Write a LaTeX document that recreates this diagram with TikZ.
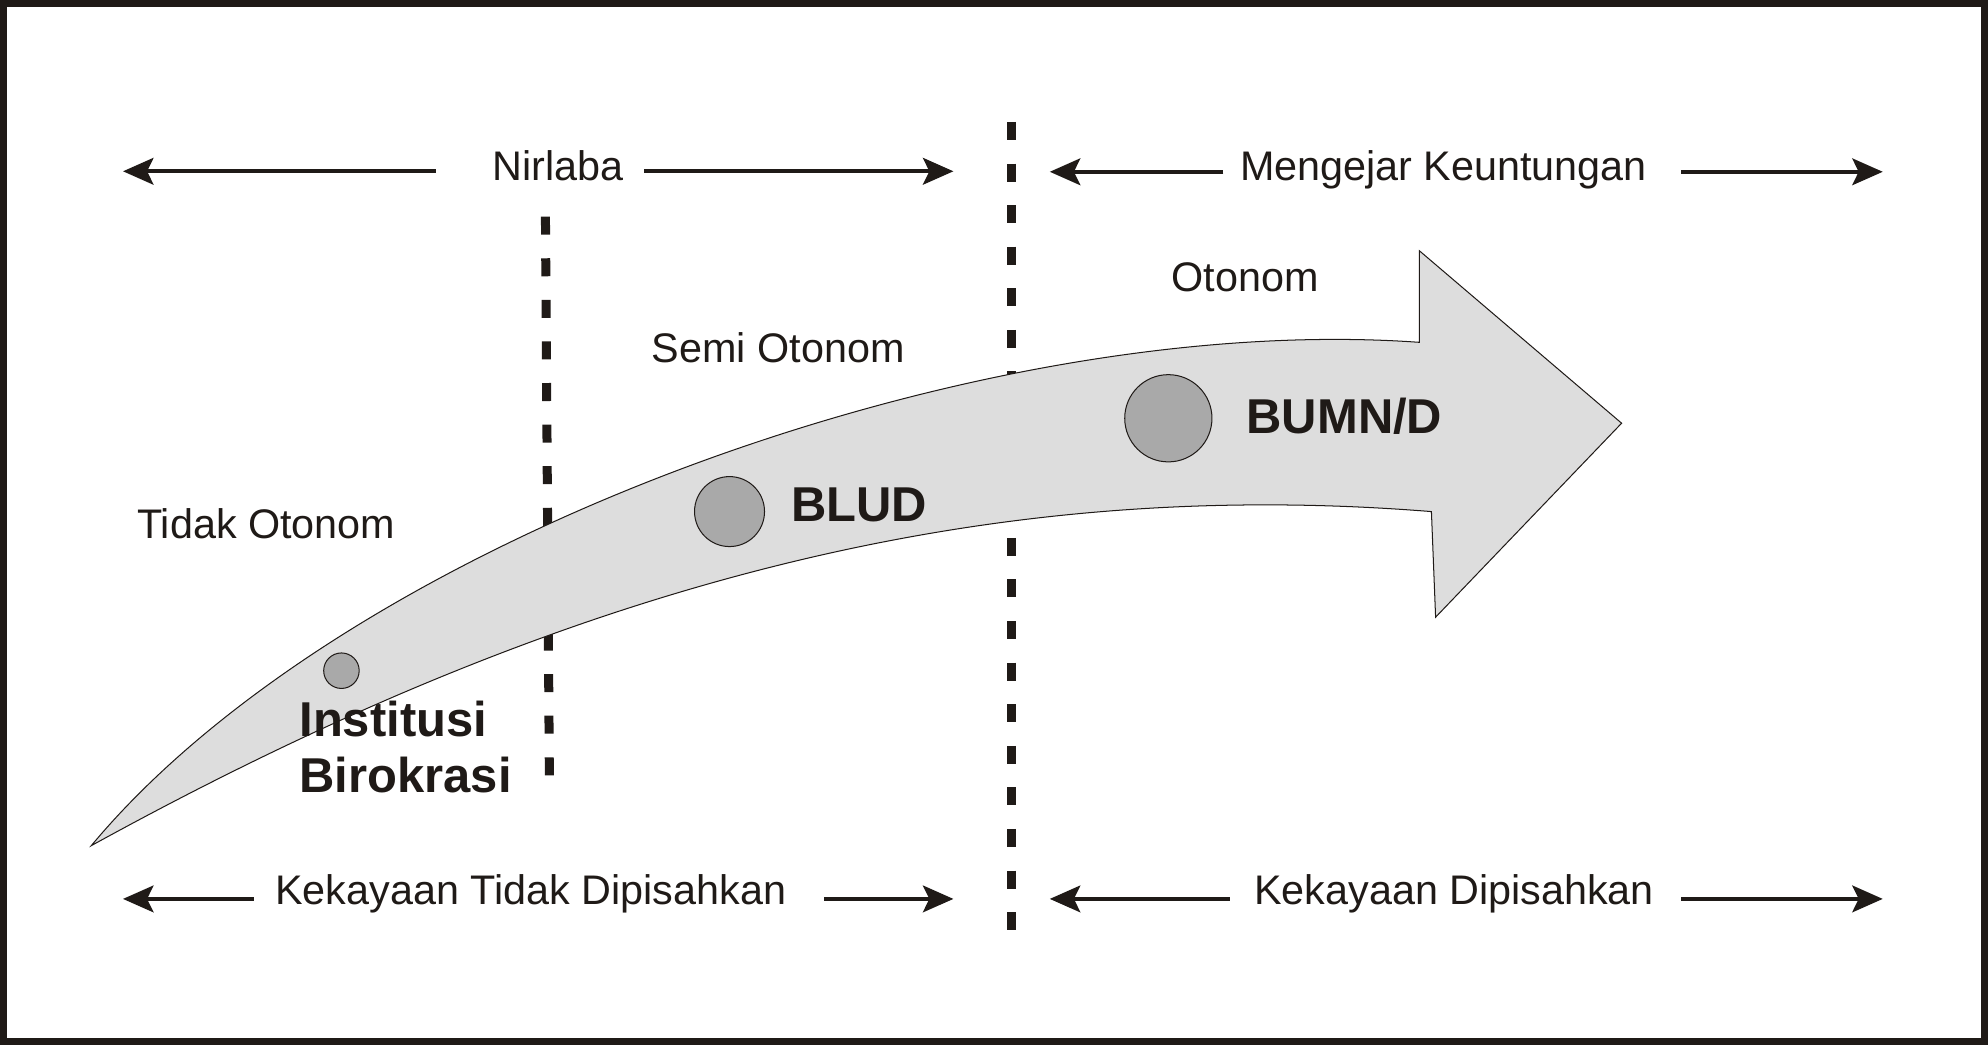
\documentclass[tikz,border=0pt]{standalone}
\usepackage{fontspec}
\setmainfont{Liberation Sans}
\usetikzlibrary{arrows.meta}
\definecolor{ink}{HTML}{1F1A17}
\definecolor{bandfill}{HTML}{DDDDDD}
\definecolor{discfill}{HTML}{A9A9A9}
\begin{document}
\begin{tikzpicture}[x=1pt,y=-1pt,
  lbl/.style={inner sep=0pt, anchor=base west, text=ink, font=\fontsize{32.6}{39}\selectfont},
  blbl/.style={inner sep=0pt, anchor=base west, text=ink, font=\fontsize{38.6}{46}\selectfont\bfseries},
  harr/.style={draw=ink, line width=3.2pt, -{Stealth[length=24pt,width=21pt,inset=5pt]}},
  dashline/.style={draw=ink, line width=7.1pt, dash pattern=on 14.2pt off 18.6pt},
  disc/.style={circle, draw=ink, line width=0.8pt, fill=discfill, inner sep=0pt, minimum size=#1}]
\useasboundingbox (0,0) rectangle (1568,824);
% frame
\draw[ink, line width=5.3pt] (2.65,2.65) rectangle (1565.35,821.35);
% dashed separators
\coordinate (d1top) at (430.2,170.9);
\coordinate (d1bot) at (433.3,611.7);
\coordinate (d2top) at (797.7,96.2);
\coordinate (d2bot) at (797.7,734);
\draw[dashline] (d1top) -- (d1bot);
\draw[dashline] (d2top) -- (d2bot);
% big curved arrow
\draw[ink, line width=0.8pt, fill=bandfill]
  (72,667) .. controls (272,427) and (769,245) .. (1119.4,270)
  -- (1119.4,197.7) -- (1279,333.8) -- (1132.3,486.8) -- (1129,403.5)
  .. controls (779,375.5) and (452,458) .. (72,667) -- cycle;
% discs
\node[disc=28pt] (c1) at (269.3,529) {};
\node[disc=55.2pt] (c2) at (575.4,403.5) {};
\node[disc=68.8pt] (c3) at (921.5,329.9) {};
% labels
\node[lbl] (nirlaba) at (388.5,142) {Nirlaba};
\node[lbl] (profit) at (978,142) {Mengejar Keuntungan};
\node[lbl] (otonom) at (924,229.6) {Otonom};
\node[lbl] (semi) at (514,285.7) {Semi Otonom};
\node[lbl] (tidak) at (108,424.5) {Tidak Otonom};
\node[lbl] (ktd) at (217,713.7) {Kekayaan Tidak Dipisahkan};
\node[lbl] (kd) at (989,713.7) {Kekayaan Dipisahkan};
\node[blbl] (blud) at (624,411.4) {BLUD};
\node[blbl] (bumn) at (983,342.3) {BUMN/D};
\node[blbl] (inst) at (236,581) {Institusi};
\node[blbl] (biro) at (236,625) {Birokrasi};
% top arrows
\coordinate (a1s) at (343.5,135.1); \coordinate (a1e) at (97,135.1);
\coordinate (a2s) at (508,135.1);   \coordinate (a2e) at (752,135.1);
\coordinate (a3s) at (965,135.5);   \coordinate (a3e) at (828,135.5);
\coordinate (a4s) at (1326,135.5);  \coordinate (a4e) at (1485,135.5);
\draw[harr] (a1s) -- (a1e);
\draw[harr] (a2s) -- (a2e);
\draw[harr] (a3s) -- (a3e);
\draw[harr] (a4s) -- (a4e);
% bottom arrows
\coordinate (b1s) at (200,709); \coordinate (b1e) at (97,709);
\coordinate (b2s) at (650,709); \coordinate (b2e) at (752,709);
\coordinate (b3s) at (970,709); \coordinate (b3e) at (828,709);
\coordinate (b4s) at (1326,709); \coordinate (b4e) at (1485,709);
\draw[harr] (b1s) -- (b1e);
\draw[harr] (b2s) -- (b2e);
\draw[harr] (b3s) -- (b3e);
\draw[harr] (b4s) -- (b4e);
\end{tikzpicture}
\end{document}
